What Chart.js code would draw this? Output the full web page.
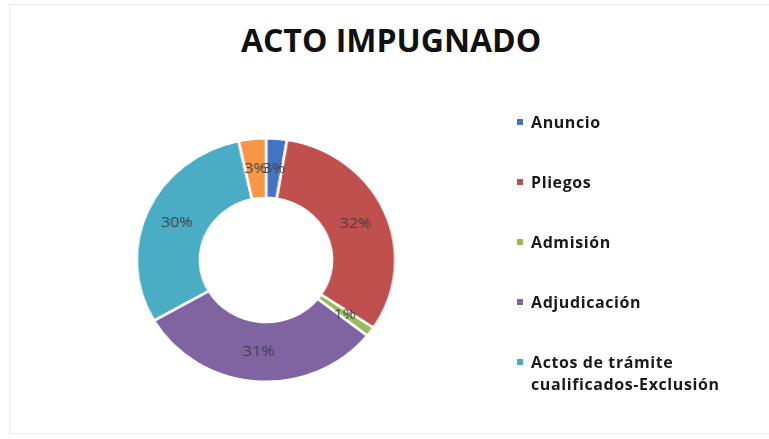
<!DOCTYPE html>
<html>
<head>
<meta charset="utf-8">
<script src="https://cdn.jsdelivr.net/npm/chart.js@4.4.1/dist/chart.umd.min.js"></script>
<style>
  body { margin: 0; background: #fff; }
  #wrap { position: relative; width: 769px; height: 439px; overflow: hidden; font-family: "Open Sans", sans-serif; }
  #frame { position: absolute; left: 9px; top: 4px; width: 800px; height: 428px; border: 1px solid #ececec; }
  #title { position: absolute; left: 0; width: 782px; top: 18px; text-align: center; font-weight: bold; font-size: 32px; color: #111; }
  canvas { position: absolute; left: 0; top: 0; transform: scaleX(1.062); transform-origin: 266px 0; }
  #legend { position: absolute; left: 517px; top: 111px; list-style: none; margin: 0; padding: 0; }
  #legend li { position: relative; padding-left: 14px; font-size: 16px; font-weight: bold; letter-spacing: 0.6px; line-height: 22px; color: #1a1a1a; margin-bottom: 38px; white-space: nowrap; }
  #legend li span { position: absolute; left: 0; top: 8px; width: 6px; height: 6px; }
</style>
</head>
<body>
<div id="wrap">
  <div id="frame"></div>
  <div id="title">ACTO IMPUGNADO</div>
  <canvas id="chart-area" width="769" height="439"></canvas>
  <ul id="legend"></ul>
</div>
<script>
var categories = ['Anuncio', 'Pliegos', 'Admisión', 'Adjudicación', ['Actos de trámite', 'cualificados-Exclusión'], 'Otros'];
var values = [2.6, 31.8, 1.3, 31, 29.9, 3.4];
var colors = ['#4472C4', '#C0504D', '#9BBB59', '#8064A2', '#4BACC6', '#F79646'];
// the last slice has no entry in the original legend
var legendCount = 5;

// percent labels in the middle of each slice
var sliceLabels = {
    id: 'sliceLabels',
    afterDatasetsDraw: function(chart) {
        var ctx = chart.ctx;
        var meta = chart.getDatasetMeta(0);
        var total = values.reduce(function(a, b) { return a + b; }, 0);
        ctx.save();
        ctx.font = '15px "Open Sans"';
        ctx.fillStyle = '#404040';
        ctx.textAlign = 'center';
        ctx.textBaseline = 'middle';
        meta.data.forEach(function(arc, i) {
            var p = arc.tooltipPosition();
            ctx.fillText(Math.round(values[i] / total * 100) + '%', p.x, p.y);
        });
        ctx.restore();
    }
};

// html legend, built from the chart's own legend items
var htmlLegend = {
    id: 'htmlLegend',
    afterUpdate: function(chart) {
        var ul = document.getElementById('legend');
        ul.innerHTML = '';
        var items = chart.options.plugins.legend.labels.generateLabels(chart);
        items.slice(0, legendCount).forEach(function(item) {
            var li = document.createElement('li');
            var box = document.createElement('span');
            box.style.background = item.fillStyle;
            li.appendChild(box);
            var lines = Array.isArray(item.text) ? item.text : [item.text];
            lines.forEach(function(t, k) {
                if (k > 0) li.appendChild(document.createElement('br'));
                li.appendChild(document.createTextNode(t));
            });
            ul.appendChild(li);
        });
    }
};

var ctx = document.getElementById('chart-area').getContext('2d');
var chart = new Chart(ctx, {
    type: 'doughnut',
    data: {
        labels: categories,
        datasets: [{
            data: values,
            backgroundColor: colors,
            borderColor: '#ffffff',
            borderWidth: 2.5
        }]
    },
    options: {
        responsive: false,
        animation: false,
        devicePixelRatio: 1,
        cutout: '51%',
        layout: { padding: { left: 0, right: 237, top: 137, bottom: 56 } },
        plugins: {
            legend: { display: false },
            tooltip: { enabled: false }
        }
    },
    plugins: [sliceLabels, htmlLegend]
});
</script>
</body>
</html>
